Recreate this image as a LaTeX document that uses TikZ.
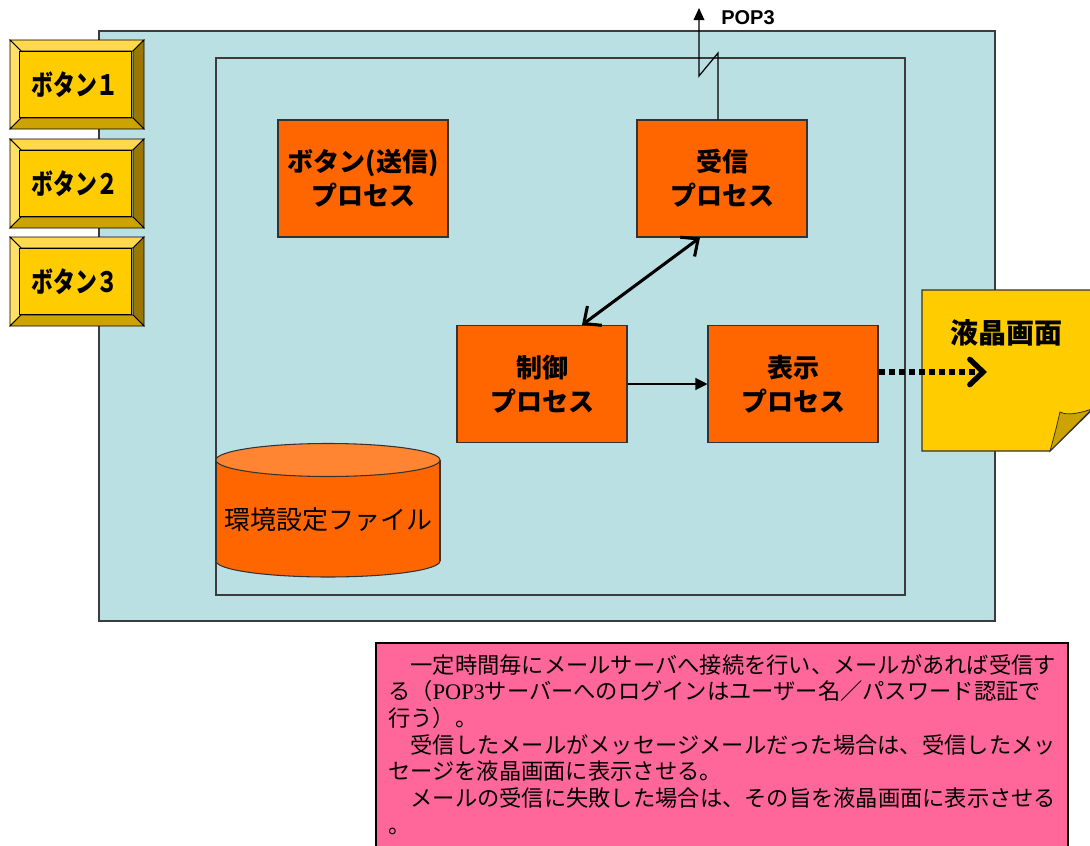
\documentclass[tikz,border=0pt]{standalone}
\usepackage{fontspec}
\newfontfamily\jp{Noto Sans CJK JP}
\newfontfamily\arialf{Liberation Sans}
\newfontfamily\timesf{Liberation Serif}
\usetikzlibrary{arrows.meta,calc}
\definecolor{bgblue}{RGB}{187,224,227}
\definecolor{procfill}{RGB}{255,102,0}
\definecolor{proctop}{RGB}{255,133,51}
\definecolor{btnface}{RGB}{255,204,0}
\definecolor{btnlight}{RGB}{255,217,77}
\definecolor{btnleft}{RGB}{255,224,102}
\definecolor{btndark}{RGB}{153,119,0}
\definecolor{btnbottom}{RGB}{204,163,0}
\definecolor{notefill}{RGB}{255,204,0}
\definecolor{notefold}{RGB}{204,163,0}
\definecolor{pinkbox}{RGB}{255,102,153}
\definecolor{edgegray}{RGB}{60,60,60}
\tikzset{
  procbox/.style={draw=black!80, fill=procfill, line width=0.8pt,
    minimum width=127.5pt, minimum height=87.75pt, align=center,
    font=\jp\bfseries\fontsize{19.5}{25.5}\selectfont},
  btntext/.style={draw=black, fill=btnface, line width=0.6pt,
    minimum width=84pt, minimum height=50pt, inner sep=0pt,
    font=\jp\bfseries\fontsize{21}{22}\selectfont},
  bevel/.style={draw=black, line width=0.6pt},
  frame/.style={draw=edgegray, line width=0.8pt},
}
\newcommand\mybutton[3]{%
  \pgfmathsetmacro\bt{#2}\pgfmathsetmacro\bb{#2+89}%
  \pgfmathsetmacro\bti{#2+11}\pgfmathsetmacro\bbi{#2+78}%
  \pgfmathsetmacro\bc{#2+44.5}%
  \filldraw[bevel, fill=btnlight] (10,\bt) -- (144,\bt) -- (133,\bti) -- (21,\bti) -- cycle;
  \filldraw[bevel, fill=btnleft] (10,\bt) -- (21,\bti) -- (21,\bbi) -- (10,\bb) -- cycle;
  \filldraw[bevel, fill=btndark] (144,\bt) -- (144,\bb) -- (133,\bbi) -- (133,\bti) -- cycle;
  \filldraw[bevel, fill=btnbottom] (10,\bb) -- (144,\bb) -- (133,\bbi) -- (21,\bbi) -- cycle;
  \node[btntext] (#1) at (75,\bc) {\scalebox{0.78}[1]{#3}};
}
\begin{document}
\begin{tikzpicture}[x=0.75pt,y=-0.75pt]
\useasboundingbox (0,0) rectangle (1090,846);
% outer and inner frames
\filldraw[frame, fill=bgblue] (99,31) rectangle (995,621);
\draw[frame] (216,58) rectangle (905,595);
% buttons
\mybutton{b1}{40}{ボタン１}
\mybutton{b2}{139}{ボタン２}
\mybutton{b3}{237}{ボタン３}
% process boxes
\node[procbox] (send) at (363,178.5) {ボタン(送信)\\プロセス};
\node[procbox] (recv) at (722,178.5) {受信\\プロセス};
\node[procbox] (ctrl) at (542,384) {制御\\プロセス};
\node[procbox] (disp) at (793,384) {表示\\プロセス};
% cylinder
\filldraw[draw=black!80, line width=0.8pt, fill=procfill] (328,561) ellipse [x radius=112, y radius=16];
\fill[procfill] (216,460) rectangle (440,561);
\draw[black!80, line width=0.8pt] (216,460) -- (216,561) (440,460) -- (440,561);
\filldraw[draw=black!80, line width=0.8pt, fill=proctop] (328,460) ellipse [x radius=112, y radius=16.5];
\node[font=\jp\fontsize{19.5}{22}\selectfont] (envfile) at (328,520) {環境設定ファイル};
% LCD note
\filldraw[draw=black!80, line width=0.8pt, fill=notefill]
  (922,290) -- (1092,290) -- (1092,410) -- (1050,451) -- (922,451) -- cycle;
\filldraw[draw=black!80, line width=0.6pt, fill=notefold]
  (1050,451) .. controls (1054,437) and (1057,425) .. (1060,412)
  .. controls (1068,416) and (1080,413) .. (1092,409) -- cycle;
\node[font=\jp\bfseries\fontsize{21}{24}\selectfont] (lcd) at (1006,333) {液晶画面};
\coordinate (lcdin) at (987,372);
% connectors
\coordinate (pop3a) at (718,53);
\coordinate (pop3b) at (699,76);
\coordinate (pop3tip) at (699,8);
\draw[line width=0.9pt, -{Triangle[length=9pt,width=8pt]}]
  (recv.north -| pop3a) -- (pop3a) -- (pop3b) -- (pop3tip);
\node[font=\arialf\bfseries\fontsize{15}{17}\selectfont, anchor=west, inner sep=0pt] (pop3) at (721,18) {POP3};
\draw[line width=2.3pt, {Straight Barb[length=10pt,width=18pt]}-{Straight Barb[length=10pt,width=18pt]}]
  ($(ctrl.north)+(40,0)$) -- ($(recv.south)+(-22,0)$);
\draw[line width=0.8pt, -{Triangle[length=9pt,width=9pt]}] (ctrl.east) -- (disp.west);
\draw[line width=4pt, dash pattern=on 4.5pt off 3pt, -{Straight Barb[length=10pt,width=19pt,line cap=round]}]
  (disp.east |- lcdin) -- (lcdin);
% description box
\fill[pinkbox] (376,643) rectangle (1068,860);
\draw[black, line width=0.8pt] (376,860) -- (376,643) -- (1068,643) -- (1068,860);
\node[anchor=north west, inner sep=0pt, align=left,
  font=\jp\fontsize{16.7}{20}\selectfont] (desc) at (388,654)
  {　一定時間毎にメールサーバへ接続を行い、メールがあれば受信す\\
   る（{\timesf POP3}サーバーへのログインはユーザー名／パスワード認証で\\
   行う）。\\
   　受信したメールがメッセージメールだった場合は、受信したメッ\\
   セージを液晶画面に表示させる。\\
   　メールの受信に失敗した場合は、その旨を液晶画面に表示させる\\
   。};
\end{tikzpicture}
\end{document}
